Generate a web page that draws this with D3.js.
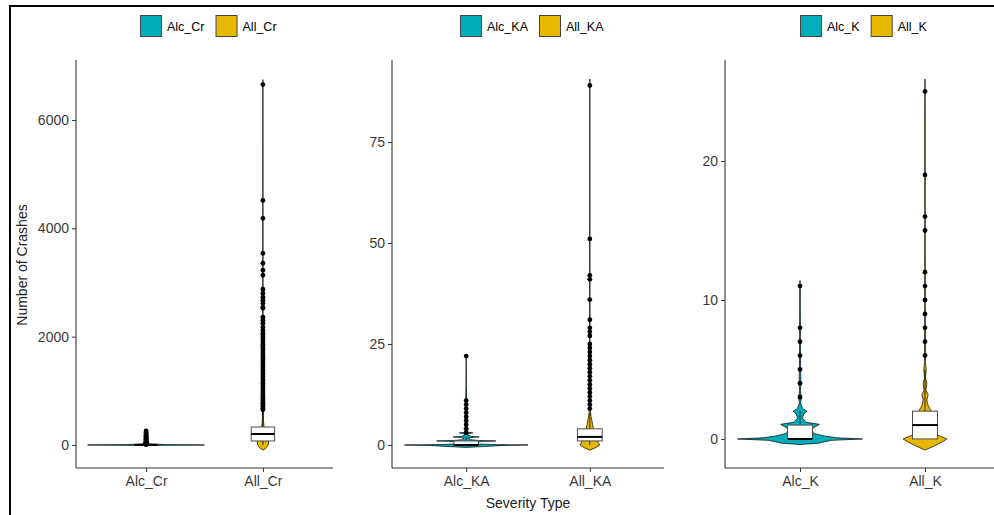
<!DOCTYPE html>
<html>
<head>
<meta charset="utf-8">
<script src="https://cdn.jsdelivr.net/npm/d3@7"></script>
<style>
  body { margin: 0; background: #fff; }
  svg { display: block; }
  text { font-family: "Liberation Sans", Arial, sans-serif; }
</style>
</head>
<body>
<svg id="chart" width="994" height="515"></svg>
<script>
// Category names per panel
const catsCr = ["Alc_Cr", "All_Cr"];
const catsKA = ["Alc_KA", "All_KA"];
const catsK  = ["Alc_K", "All_K"];

// Y axis ticks per panel
const ticksCr = [0, 2000, 4000, 6000];
const ticksKA = [0, 25, 50, 75];
const ticksK  = [0, 10, 20];

// Y value range shown per panel
const domainCr = [-425, 7108];
const domainKA = [-5.7, 95.3];
const domainK  = [-2.09, 27.27];

// Box statistics: [lower whisker, Q1, median, Q3, upper whisker]
const boxAlcCr = [0, 0, 1, 3, 7];
const boxAllCr = [0, 74, 203, 332, 645];
const boxAlcKA = [0, 0, 0, 1, 2];
const boxAllKA = [0, 1, 2, 4, 8];
const boxAlcK  = [0, 0, 0, 1, 2];
const boxAllK  = [0, 0, 1, 2, 5];

// Outlying observations
const outAlcCr = [8, 10, 12, 15, 18, 22, 26, 30, 35, 40, 46, 52, 60, 68, 75, 85, 95, 105, 118, 130, 145, 160, 175, 190, 210, 230, 258];
const outAllCr = [650, 680, 710, 740, 770, 800, 830, 860, 900, 940, 980, 1020, 1060, 1100, 1140, 1180, 1220, 1260, 1300, 1340,
                  1380, 1420, 1460, 1500, 1540, 1580, 1620, 1660, 1700, 1740, 1780, 1820, 1860, 1900, 1940, 1990, 2030, 2065,
                  2120, 2175, 2249, 2304, 2359, 2525, 2544, 2618, 2673, 2728, 2802, 2876, 3134, 3226, 3355, 3539, 4184, 4516, 6654];
const outAlcKA = [3, 4, 5, 6, 7, 8, 9, 10, 11, 22];
const outAllKA = [9, 10, 11, 12, 13, 14, 15, 16, 17, 18, 19, 20, 21, 22, 23, 24, 25, 27, 28, 29, 31, 36, 41, 42, 51, 89];
const outAlcK  = [3, 4, 5, 6, 7, 8, 11];
const outAllK  = [6, 7, 8, 9, 10, 11, 12, 15, 16, 19, 25];

// Violin outlines: [value, relative half-width]
const violinAlcCr = [[-8, 0], [-4, 0.6], [0, 1.0], [3, 0.8], [6, 0.35], [12, 0.25], [20, 0.08], [40, 0.03], [100, 0.01], [258, 0.004], [270, 0]];
const violinAllCr = [[-95, 0], [-50, 0.06], [0, 0.09], [74, 0.1], [200, 0.06], [332, 0.02], [450, 0.01], [700, 0.006], [1500, 0.004], [3000, 0.003], [6746, 0]];
const violinAlcKA = [[-0.6, 0], [-0.3, 0.4], [-0.1, 0.6], [0, 1.0], [0.1, 0.4], [0.3, 0.12], [0.6, 0.08], [0.9, 0.28], [1, 0.48], [1.1, 0.22],
                     [1.3, 0.06], [1.7, 0.04], [1.9, 0.12], [2, 0.21], [2.1, 0.08], [2.4, 0.03], [2.8, 0.03], [3, 0.11], [3.1, 0.04],
                     [3.5, 0.015], [4, 0.035], [4.5, 0.01], [5, 0.02], [6, 0.015], [8, 0.01], [11, 0.008], [15, 0.003], [22.5, 0]];
const violinAllKA = [[-1.3, 0], [-0.6, 0.1], [0, 0.16], [0.5, 0.14], [1, 0.12], [2, 0.1], [3, 0.08], [4, 0.06], [5, 0.045], [6, 0.035],
                     [7, 0.02], [8, 0.012], [10, 0.008], [15, 0.006], [25, 0.004], [40, 0.003], [90.6, 0]];
const violinAlcK  = [[-0.4, 0], [-0.3, 0.3], [-0.1, 0.5], [0, 1.0], [0.08, 0.6], [0.2, 0.4], [0.4, 0.22], [0.7, 0.18], [0.9, 0.25], [1.05, 0.31],
                     [1.2, 0.1], [1.5, 0.04], [1.8, 0.06], [2, 0.11], [2.2, 0.04], [2.6, 0.01], [3, 0.02], [3.5, 0.006], [4, 0.015], [5, 0.01],
                     [6, 0.008], [7, 0.006], [8, 0.006], [11, 0.004], [11.4, 0]];
const violinAllK  = [[-0.8, 0], [-0.5, 0.15], [-0.2, 0.28], [0, 0.35], [0.25, 0.22], [0.5, 0.12], [1, 0.1], [1.5, 0.12], [2, 0.1], [2.4, 0.05],
                     [2.8, 0.03], [3.2, 0.05], [3.5, 0.015], [4, 0.03], [4.4, 0.008], [5, 0.02], [5.5, 0.006], [6, 0.01], [8, 0.006],
                     [12, 0.005], [16, 0.004], [19, 0.004], [25, 0.003], [25.9, 0]];

const fillColors = ["#00AFBB", "#E7B800"];

// Layout of each panel (plot area in pixels)
const panels = [
  { cats: catsCr, ticks: ticksCr, domain: domainCr, x0: 76,  x1: 333,  legendX: 140,
    boxes: [boxAlcCr, boxAllCr], outs: [outAlcCr, outAllCr], violins: [violinAlcCr, violinAllCr] },
  { cats: catsKA, ticks: ticksKA, domain: domainKA, x0: 392, x1: 664,  legendX: 460,
    boxes: [boxAlcKA, boxAllKA], outs: [outAlcKA, outAllKA], violins: [violinAlcKA, violinAllKA] },
  { cats: catsK,  ticks: ticksK,  domain: domainK,  x0: 725, x1: 1000, legendX: 800,
    boxes: [boxAlcK, boxAllK], outs: [outAlcK, outAllK], violins: [violinAlcK, violinAllK] }
];

const plotTop = 60, plotBottom = 468;
const svg = d3.select("#chart");

panels.forEach(p => {
  const g = svg.append("g");
  const x = d3.scalePoint().domain(p.cats).range([p.x0, p.x1]).padding(0.6);
  const y = d3.scaleLinear().domain(p.domain).range([plotBottom, plotTop]);
  const step = x.step();
  const halfW = step / 2;
  const boxHalf = step * 0.1;

  p.cats.forEach((c, i) => {
    const cx = x(c);
    const w = d3.scaleLinear().domain([0, 1]).range([0, halfW]);

    // violin body
    const area = d3.area()
      .y(d => y(d[0]))
      .x0(d => cx - w(d[1]))
      .x1(d => cx + w(d[1]))
      .curve(d3.curveLinear);
    g.append("path")
      .attr("d", area(p.violins[i]))
      .attr("fill", fillColors[i])
      .attr("stroke", "#000")
      .attr("stroke-width", 0.7);

    // box plot
    const b = p.boxes[i];
    g.append("line").attr("x1", cx).attr("x2", cx).attr("y1", y(b[3])).attr("y2", y(b[4]))
      .attr("stroke", "#000").attr("stroke-width", 0.8);
    g.append("line").attr("x1", cx).attr("x2", cx).attr("y1", y(b[1])).attr("y2", y(b[0]))
      .attr("stroke", "#000").attr("stroke-width", 0.8);
    g.append("rect")
      .attr("x", cx - boxHalf).attr("width", boxHalf * 2)
      .attr("y", y(b[3])).attr("height", Math.max(0.5, y(b[1]) - y(b[3])))
      .attr("fill", "#fff").attr("stroke", "#4d4d4d").attr("stroke-width", 1);
    g.append("line").attr("x1", cx - boxHalf).attr("x2", cx + boxHalf).attr("y1", y(b[2])).attr("y2", y(b[2]))
      .attr("stroke", "#000").attr("stroke-width", 2);

    // outliers
    g.selectAll(null).data(p.outs[i]).enter().append("circle")
      .attr("cx", cx).attr("cy", d => y(d)).attr("r", 2.4).attr("fill", "#000");
  });

  // axes
  const yAxis = d3.axisLeft(y).tickValues(p.ticks).tickFormat(d3.format("d"))
    .tickSize(4).tickPadding(3).tickSizeOuter(0);
  const ga = g.append("g").attr("transform", `translate(${p.x0},0)`).call(yAxis);
  ga.select(".domain").attr("d", `M0,${plotTop}V${plotBottom}`);
  const xAxis = d3.axisBottom(x).tickSize(4).tickPadding(4).tickSizeOuter(0);
  const gx = g.append("g").attr("transform", `translate(0,${plotBottom})`).call(xAxis);
  gx.select(".domain").attr("d", `M${p.x0},0H${p.x1}`);
  [ga, gx].forEach(a => {
    a.selectAll(".domain").attr("stroke", "#333").attr("stroke-width", 1.1);
    a.selectAll(".tick line").attr("stroke", "#333");
    a.selectAll(".tick text").attr("fill", "#3a3a3a").style("font-size", "14px")
      .style("font-family", "'Liberation Sans', Arial, sans-serif");
  });

  // legend
  const lg = g.append("g").attr("transform", `translate(${p.legendX},15)`);
  let lx = 0;
  p.cats.forEach((c, i) => {
    lg.append("rect").attr("x", lx + 0.5).attr("y", 0.5).attr("width", 21).attr("height", 21)
      .attr("fill", fillColors[i]).attr("stroke", "#444").attr("stroke-width", 1);
    const t = lg.append("text").attr("x", lx + 27).attr("y", 15.5)
      .style("font-size", "12.5px").attr("fill", "#000").text(c);
    lx += 27 + t.node().getComputedTextLength() + 11;
  });
});

// axis titles
svg.append("text")
  .attr("transform", "translate(27,265) rotate(-90)")
  .attr("text-anchor", "middle").style("font-size", "14px").attr("fill", "#222")
  .text("Number of Crashes");
svg.append("text")
  .attr("x", 528).attr("y", 508)
  .attr("text-anchor", "middle").style("font-size", "14px").attr("fill", "#222")
  .text("Severity Type");

// outer frame
svg.append("rect").attr("x", 10).attr("y", 6).attr("width", 1000).attr("height", 520)
  .attr("fill", "none").attr("stroke", "#000").attr("stroke-width", 2);
</script>
</body>
</html>
